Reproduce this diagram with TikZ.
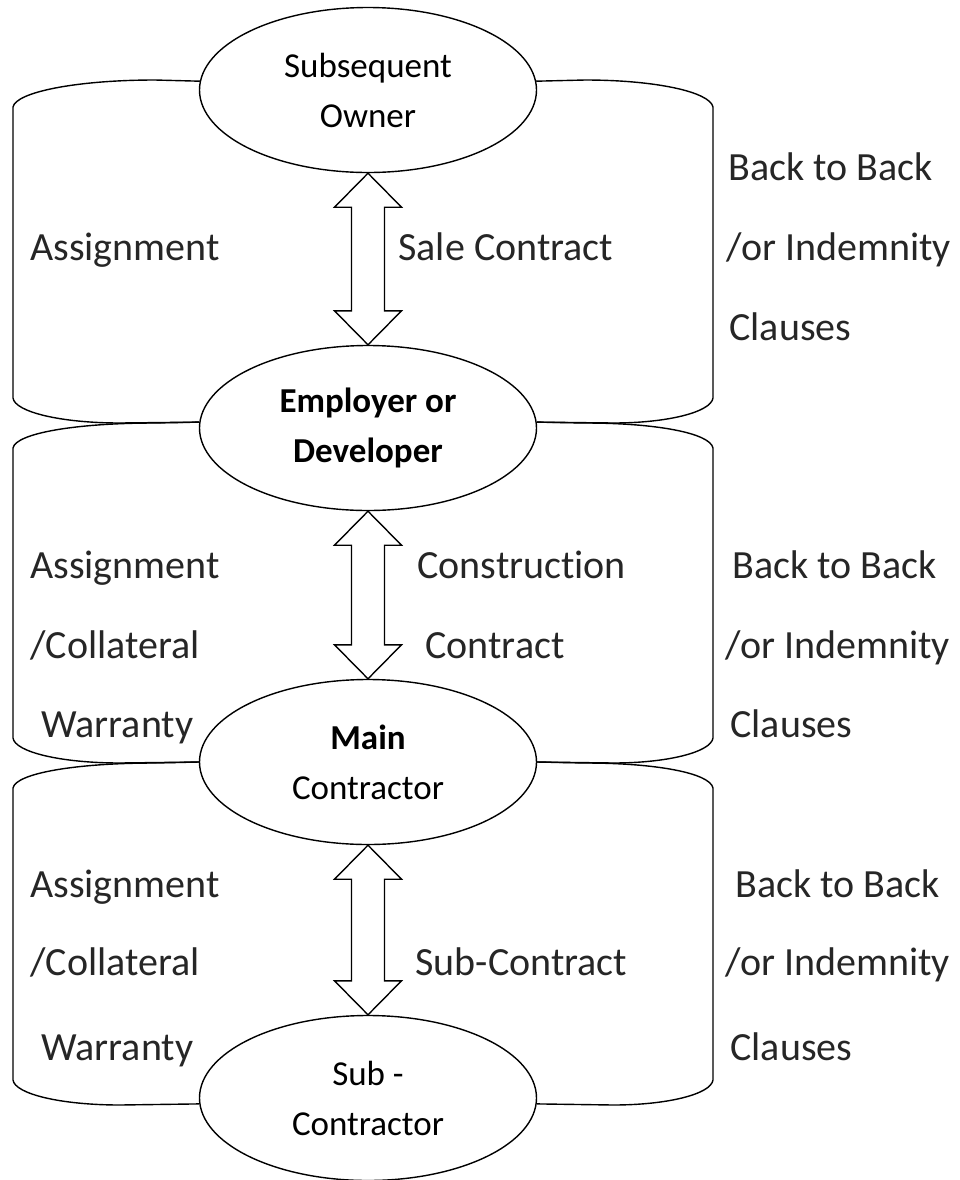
\documentclass[tikz,border=0pt]{standalone}
\usepackage{fontspec}
\setmainfont{Carlito}[Ligatures=NoCommon]
\usetikzlibrary{calc,shapes.geometric}

\tikzset{
	party/.style={draw,ellipse,line width=.7pt,inner sep=0pt,
		minimum width=168.5pt,minimum height=82.5pt,align=center,
		font=\fontsize{17.5}{25}\selectfont},
	rim/.style={line width=.7pt},
	lbl/.style={anchor=base west,inner sep=0pt,
		font=\fontsize{20}{24}\selectfont,text=black!85}
}

\begin{document}
\begin{tikzpicture}[x=.5pt,y=.5pt]
	\useasboundingbox (0,0) rectangle (960,-1180);
	
	\node[party] (own) at (368,-90) {Subsequent\\Owner};
	\node[party] (emp) at (368,-428) {\textbf{Employer or}\\\textbf{Developer}};
	\node[party] (main) at (368,-762) {\textbf{Main}\\Contractor};
	\node[party] (sub) at (368,-1098) {Sub -\\Contractor};
	
	% two-way contract arrows
	\foreach \u/\l in {own/emp,emp/main,main/sub}
	\draw[rim,fill=white] (\u.south) -- ++(33.5,-34) -- ++(-17,0) 
	-- ($(\l.north)+(16.5,34)$) -- ++(17,0) -- (\l.north) 
	-- ++(-33.5,34) -- ++(17,0) -- ($(\u.south)+(-16.5,-34)$) 
	-- ++(-17,0) -- cycle;
	
	% left brackets
	\draw[rim] (own.177) -- (155,-80) .. controls +(-78,0) and +(3,15) .. 
	(13,-107) -- (13,-398) .. controls +(2,-14) and +(-59,0) .. 
	(120,-423) -- (emp.178);
	\draw[rim] (emp.178) -- (155,-423) .. controls +(-78,0) and +(3,15) .. 
	(13,-448) -- (13,-738) .. controls +(2,-14) and +(-59,0) .. 
	(120,-763) -- (main.180);
	\draw[rim] (main.180) -- (155,-763) .. controls +(-78,0) and +(3,15) .. 
	(13,-788) -- (13,-1080) .. controls +(2,-14) and +(-59,0) .. 
	(120,-1105) -- (sub.182);
	
	% right brackets
	\draw[rim] (own.3) -- (585,-80) .. controls +(71,0) and +(-3,15) .. 
	(713,-107) -- (713,-398) .. controls +(-2,-14) and +(55,0) .. 
	(613,-423) -- (emp.2);
	\draw[rim] (emp.2) -- (585,-423) .. controls +(71,0) and +(-3,15) .. 
	(713,-448) -- (713,-738) .. controls +(-2,-14) and +(55,0) .. 
	(613,-763) -- (main.0);
	\draw[rim] (main.0) -- (585,-763) .. controls +(71,0) and +(-3,15) .. 
	(713,-788) -- (713,-1080) .. controls +(-2,-14) and +(55,0) .. 
	(613,-1105) -- (sub.-2);
	
	% top labels
	\node[lbl] (asg1) at (30,-260) {Assignment};
	\node[lbl] (sale) at (398,-260) {Sale Contract};
	\node[lbl] (bb1a) at (728,-180) {Back to Back};
	\node[lbl] (bb1b) at (726,-260) {/or Indemnity};
	\node[lbl] (bb1c) at (729,-340) {Clauses};
	
	% middle labels
	\node[lbl] (asg2a) at (30,-578) {Assignment};
	\node[lbl] (asg2b) at (30,-658) {/Collateral};
	\node[lbl] (asg2c) at (41,-737) {Warranty};
	\node[lbl] (cons1) at (417,-578) {Construction};
	\node[lbl] (cons2) at (425,-658) {Contract};
	\node[lbl] (bb2a) at (732,-578) {Back to Back};
	\node[lbl] (bb2b) at (725,-658) {/or Indemnity};
	\node[lbl] (bb2c) at (730,-737) {Clauses};
	
	% bottom labels
	\node[lbl] (asg3a) at (30,-897) {Assignment};
	\node[lbl] (asg3b) at (30,-975) {/Collateral};
	\node[lbl] (asg3c) at (41,-1060) {Warranty};
	\node[lbl] (subc) at (415,-975) {Sub-Contract};
	\node[lbl] (bb3a) at (735,-897) {Back to Back};
	\node[lbl] (bb3b) at (725,-975) {/or Indemnity};
	\node[lbl] (bb3c) at (730,-1060) {Clauses};
\end{tikzpicture}
\end{document}
